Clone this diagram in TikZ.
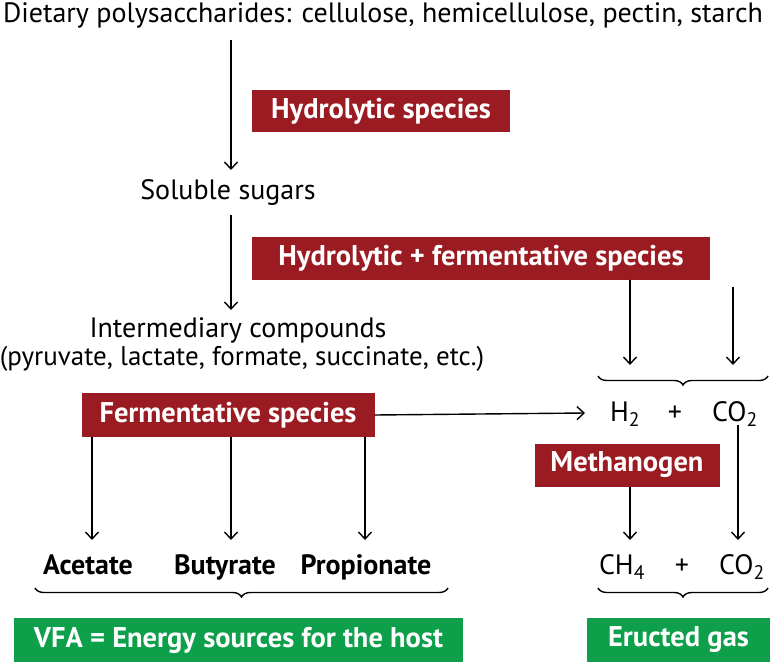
\documentclass[tikz,border=0pt]{standalone}
\usepackage{fontspec}
\setmainfont{PT Sans}
\usetikzlibrary{arrows.meta,decorations.pathreplacing}
\definecolor{rbox}{HTML}{9B1B22}
\definecolor{gbox}{HTML}{0E9F4A}
\begin{document}
\begin{tikzpicture}[x=1pt,y=-1pt,
  txt/.style={font=\fontsize{28}{32}\selectfont, inner sep=0pt, anchor=base},
  lbl/.style={font=\fontsize{28}{32}\selectfont\bfseries, inner sep=0pt, anchor=base},
  redbox/.style={fill=rbox, text=white, font=\fontsize{28.5}{32}\selectfont\bfseries, inner sep=0pt},
  greenbox/.style={fill=gbox, text=white, font=\fontsize{28.5}{32}\selectfont\bfseries, inner sep=0pt},
  arr/.style={line width=1.4pt, -{Straight Barb[length=7pt,width=13pt,line width=1.4pt]}},
  brc/.style={line width=1.4pt, decorate, decoration={brace, mirror, amplitude=9pt}}]
\useasboundingbox (0,0) rectangle (772,662);
\node[txt] (top) at (383,22) {Dietary polysaccharides: cellulose, hemicellulose, pectin, starch};
\node[redbox, minimum width=258, minimum height=42] (hs) at (381,111) {Hydrolytic species};
\node[txt] (sug) at (228,199) {Soluble sugars};
\node[redbox, minimum width=458, minimum height=43] (hfs) at (481,258) {Hydrolytic + fermentative species};
\node[txt] (int1) at (238,337) {Intermediary compounds};
\node[txt, font=\fontsize{27}{32}\selectfont] (int2) at (242,365) {(pyruvate, lactate, formate, succinate, etc.)};
\node[redbox, minimum width=293, minimum height=44] (fs) at (228,415) {Fermentative species};
\node[txt] (h2) at (625,421) {H\textsubscript{2}};
\node[txt] (p1) at (675,421) {+};
\node[txt] (co2a) at (735,421) {CO\textsubscript{2}};
\node[redbox, minimum width=185, minimum height=43] (meth) at (627,465) {Methanogen};
\node[lbl] (ac) at (88,574) {Acetate};
\node[lbl] (bu) at (225,574) {Butyrate};
\node[lbl] (pr) at (366,574) {Propionate};
\node[txt] (ch4) at (622,574) {CH\textsubscript{4}};
\node[txt] (p2) at (682,574) {+};
\node[txt] (co2b) at (742,574) {CO\textsubscript{2}};
\node[greenbox, minimum width=449, minimum height=44] (vfa) at (238.5,640) {VFA = Energy sources for the host};
\node[greenbox, minimum width=183, minimum height=44] (eg) at (678.5,640) {Eructed gas};
\coordinate (a1s) at (231,40); \coordinate (a1e) at (231,170);
\coordinate (a2s) at (231,215); \coordinate (a2e) at (231,310);
\draw[arr] (a1s) -- (a1e);
\draw[arr] (a2s) -- (a2e);
\draw[arr] (hfs.south -| 630,0) -- (630,365);
\draw[arr] (733,287) -- (733,365);
\draw[arr] (fs.east) -- (585,413);
\draw[arr] (meth.south -| 630,0) -- (630,540);
\draw[arr] (738,425) -- (738,540);
\draw[arr] (fs.south -| 92,0) -- (92,540);
\draw[arr] (fs.south -| 231,0) -- (231,540);
\draw[arr] (fs.south -| 365,0) -- (365,540);
\draw[brc] (598,376) -- (768,376);
\draw[brc] (598,588) -- (768,588);
\draw[brc] (35,588) -- (448,588);
\end{tikzpicture}
\end{document}
